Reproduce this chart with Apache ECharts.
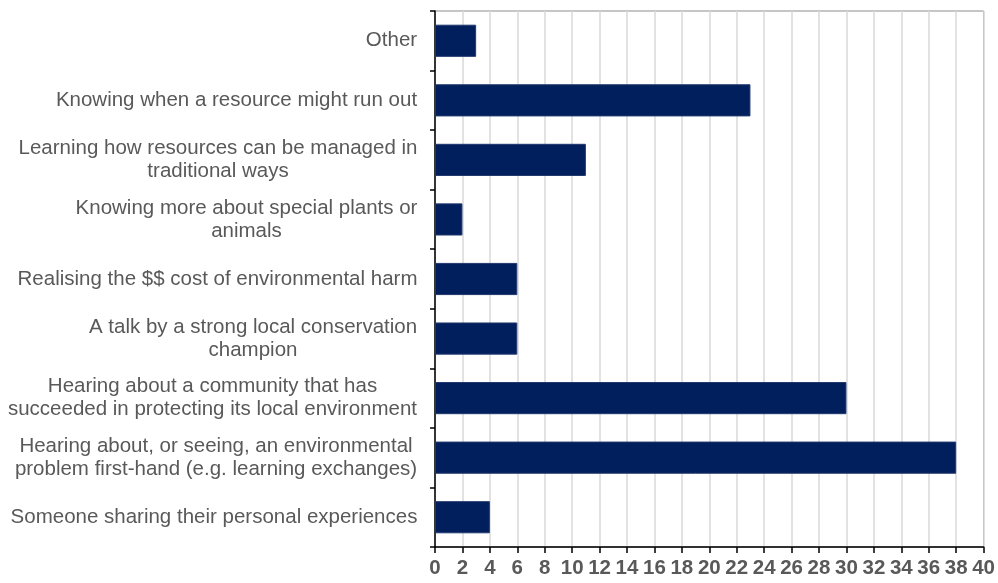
<!DOCTYPE html>
<html>
<head>
<meta charset="utf-8">
<script src="https://cdn.jsdelivr.net/npm/echarts@6/dist/echarts.min.js"></script>
<style>
  html, body { margin: 0; padding: 0; background: #fff; }
  #chart { width: 998px; height: 583px; }
</style>
</head>
<body>
<div id="chart"></div>
<script>
// Categories listed bottom to top (category axis starts at the bottom)
const categories = [
  'Someone sharing their personal experiences',
  'Hearing about, or seeing, an environmental\nproblem first-hand (e.g. learning exchanges)',
  'Hearing about a community that has\nsucceeded in protecting its local environment',
  'A talk by a strong local conservation\nchampion',
  'Realising the $$ cost of environmental harm',
  'Knowing more about special plants or\nanimals',
  'Learning how resources can be managed in\ntraditional ways',
  'Knowing when a resource might run out',
  'Other'
];
const counts = [4, 38, 30, 6, 6, 2, 11, 23, 3];
const axisMin = 0;
const axisMax = 40;
const axisStep = 2;

const labelFont = '"Liberation Sans", Arial, sans-serif';
const labelSize = 20.5;

// Measure each label so its lines can be centred within the widest line,
// while the block as a whole stays right-aligned against the axis.
const measureCtx = document.createElement('canvas').getContext('2d');
measureCtx.font = labelSize + 'px ' + labelFont;
const rich = {};
categories.forEach((c, i) => {
  const w = Math.max(...c.split('\n').map(l => measureCtx.measureText(l).width));
  rich['c' + i] = {
    width: Math.ceil(w) + 1, align: 'center',
    color: '#595959', fontFamily: labelFont, fontSize: labelSize, lineHeight: 23
  };
});

const chart = echarts.init(document.getElementById('chart'), null, { renderer: 'canvas' });
chart.setOption({
  animation: false,
  backgroundColor: '#ffffff',
  grid: {
    left: 435, right: 14, top: 11, bottom: 36,
    show: true, borderColor: '#8c8c8c', borderWidth: 1, backgroundColor: 'transparent'
  },
  xAxis: {
    type: 'value',
    min: axisMin, max: axisMax, interval: axisStep,
    axisLine: { show: true, lineStyle: { color: '#000', width: 1.5 } },
    axisTick: { show: true, length: 6, lineStyle: { color: '#000', width: 1.5 } },
    axisLabel: {
      color: '#595959', fontFamily: labelFont,
      fontSize: 20.5, fontWeight: 'bold', margin: 11
    },
    splitLine: { show: true, lineStyle: { color: '#d9d9d9', width: 1.5 } }
  },
  yAxis: {
    type: 'category',
    data: categories,
    axisLine: { show: true, onZero: false, lineStyle: { color: '#000', width: 1.5 } },
    axisTick: { show: true, length: 5, lineStyle: { color: '#000', width: 1.5 } },
    axisLabel: {
      align: 'right', margin: 17,
      formatter: (v, i) => '{c' + i + '|' + v + '}',
      rich: rich
    },
    splitLine: { show: false }
  },
  series: [{
    type: 'bar',
    data: counts,
    barCategoryGap: '46%',
    itemStyle: { color: '#001f5c', borderColor: '#21386e', borderWidth: 1 }
  }]
});
</script>
</body>
</html>
